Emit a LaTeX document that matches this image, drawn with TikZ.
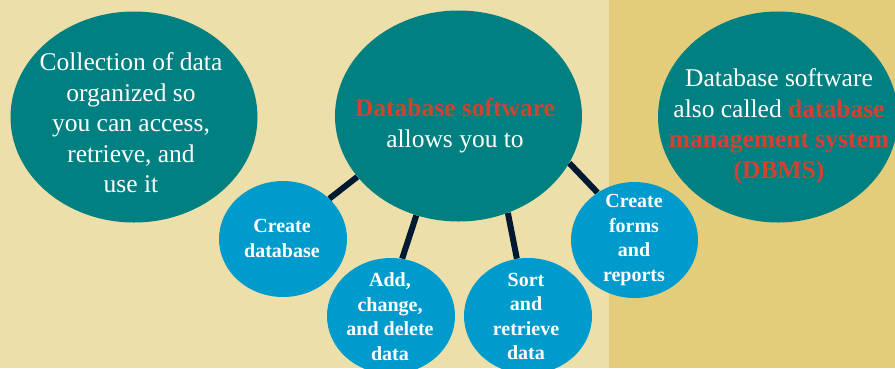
\documentclass[tikz,border=0pt]{standalone}
\usepackage{fontspec}
\setmainfont{Liberation Serif}
\usetikzlibrary{shapes.geometric}
\definecolor{bgA}{RGB}{237,223,170}
\definecolor{bgB}{RGB}{227,205,122}
\definecolor{tealc}{RGB}{0,128,128}
\definecolor{bluec}{RGB}{0,155,205}
\definecolor{redc}{RGB}{210,65,50}
\definecolor{navyc}{RGB}{0,25,50}
\pgfdeclarelayer{back}
\pgfdeclarelayer{lines}
\pgfsetlayers{back,lines,main}
\begin{document}
\begin{tikzpicture}[x=1pt,y=-1pt,
  bigell/.style={ellipse, fill=tealc, inner sep=0pt, minimum width=247pt, minimum height=211pt},
  smallc/.style={ellipse, fill=bluec, inner sep=0pt, minimum width=128pt, minimum height=116pt},
  conn/.style={draw=navyc, line width=6pt},
  bigtxt/.style={text=white, align=center, font=\fontsize{25.5}{30.5}\selectfont, inner sep=0pt},
  smalltxt/.style={text=white, align=center, font=\bfseries\fontsize{20}{24.5}\selectfont, inner sep=0pt},
  hl/.style={}]
\useasboundingbox (0,0) rectangle (895,368);
\begin{pgfonlayer}{back}
  \fill[bgA] (0,0) rectangle (609,368);
  \fill[bgB] (609,0) rectangle (895,368);
\end{pgfonlayer}
% shapes
\node[bigell] (coll) at (134,117) {};
\node[bigell] (db) at (458.5,116) {};
\node[bigell, minimum width=240pt] (dbms) at (778,117) {};
\node[smallc] (cd) at (283,239) {};
\node[smallc] (ad) at (391,316) {};
\node[smallc] (so) at (528,316) {};
\node[smallc, minimum width=127pt] (cf) at (634.5,240) {};
% connectors
\begin{pgfonlayer}{lines}
  \draw[conn] (cd.41) -- (db.211);
  \draw[conn] (ad.79) -- (db.247);
  \draw[conn] (so.101) -- (db.297);
  \draw[conn] (cf.128) -- (db.337);
\end{pgfonlayer}
% texts
\node[bigtxt] (tcoll) at (131,123) {Collection of data\\organized so\\you can access,\\retrieve, and\\use it};
\node[bigtxt] (tdb) at (455,126) {\textcolor{redc}{\bfseries Database software}\\allows you to};
\node[bigtxt] (tdbms) at (779,126) {Database software\\also called \textcolor{redc}{\bfseries database}\\\textcolor{redc}{\bfseries management system}\\\textcolor{redc}{\bfseries (DBMS)}};
\node[smalltxt] (tcd) at (282,238.5) {Create\\database};
\node[smalltxt] (tad) at (390,316.5) {Add,\\change,\\and delete\\data};
\node[smalltxt] (tso) at (526,316.5) {Sort\\and\\retrieve\\data};
\node[smalltxt] (tcf) at (634,240) {Create\\forms\\and\\reports};
\end{tikzpicture}
\end{document}
